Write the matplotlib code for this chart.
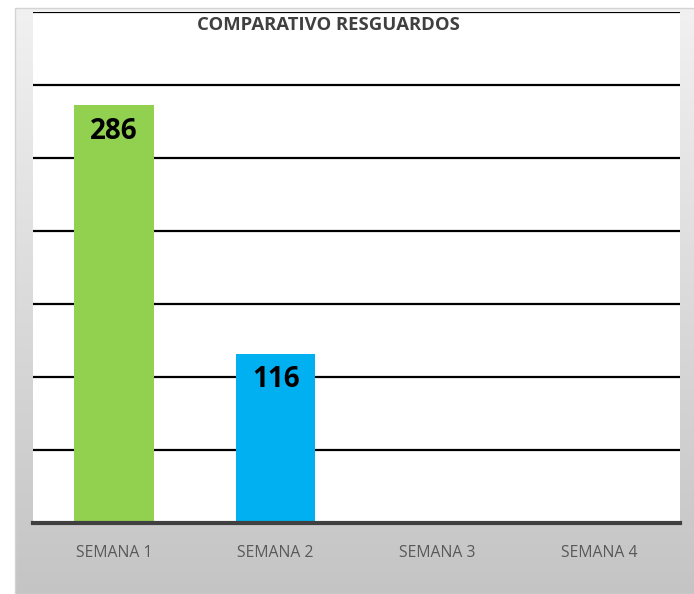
import numpy as np
import matplotlib.pyplot as plt

semanas = ['SEMANA 1', 'SEMANA 2', 'SEMANA 3', 'SEMANA 4']
resguardos = [286, 116, 0, 0]
colores = ['#92D050', '#00B0F0', '#92D050', '#00B0F0']

fig = plt.figure(figsize=(6.94, 5.94), dpi=100)

# fondo del area del grafico con degradado (gris claro arriba, gris abajo)
bg = fig.add_axes([15 / 694, 0, 1 - 15 / 694, 1 - 8 / 594], zorder=0)
t = np.linspace(0, 1, 256).reshape(-1, 1, 1)
tono = 0.945 - 0.175 * t
img = np.repeat(np.concatenate([tono, tono, tono], axis=2), 2, axis=1)
bg.imshow(img, aspect='auto', extent=[0, 1, 0, 1])
bg.set_axis_off()
fig.patches.append(plt.Rectangle((15 / 694, 0), 1, 1 - 8 / 594, transform=fig.transFigure,
                                 fill=False, edgecolor='#d4d4d4', lw=1, zorder=1))

ax = fig.add_axes([33 / 694, 1 - 523 / 594, 647 / 694, 511 / 594], zorder=2)
ax.set_facecolor('white')
x = np.arange(len(semanas))
ax.bar(x, resguardos, width=0.49, color=colores, zorder=3)
ax.set_xlim(-0.5, 3.5)
ax.set_ylim(0, 350)
ax.set_yticks(range(0, 351, 50))
ax.yaxis.grid(True, color='black', linewidth=1.6, zorder=1)
ax.tick_params(axis='y', left=False, labelleft=False)
ax.tick_params(axis='x', bottom=False, pad=12)
ax.set_xticks(x, semanas, fontsize=11.3, color='#595959', family='Open Sans')
for s in ['top', 'left', 'right']:
    ax.spines[s].set_visible(False)
ax.spines['bottom'].set_color('#404040')
ax.spines['bottom'].set_linewidth(3)
ax.spines['bottom'].set_zorder(4)

for i, v in enumerate(resguardos):
    if v > 0:
        ax.text(i, v - 8, str(v), ha='center', va='top', fontsize=20,
                fontweight='bold', color='black', family='Open Sans', zorder=5)

fig.text(328 / 694, 1 - 16 / 594, 'COMPARATIVO RESGUARDOS', ha='center',
         va='top', fontsize=13.3, fontweight='bold', color='#404040', family='Open Sans', zorder=5)

fig.savefig('out.png', dpi=100)
